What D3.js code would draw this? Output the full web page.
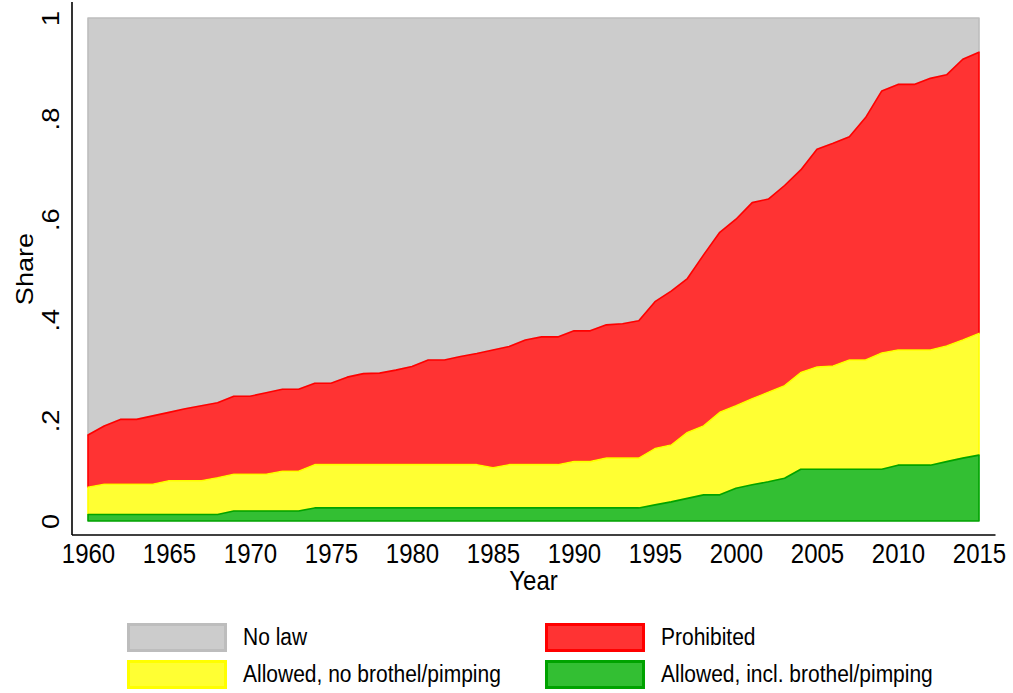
<!DOCTYPE html>
<html>
<head>
<meta charset="utf-8">
<script src="https://cdn.jsdelivr.net/npm/d3@7"></script>
<style>
  body { margin: 0; background: #fff; }
  text { font-family: "Liberation Sans", Arial, sans-serif; fill: #000; }
</style>
</head>
<body>
<svg id="chart"></svg>
<script>
// years on the x axis
const years = d3.range(1960, 2016)

// share of countries in each legal regime (bottom to top of the stack)
const allowedIncl = [
  .013, .013, .013, .013, .013, .013, .013, .013, .013, .020,
  .020, .020, .020, .020, .026, .026, .026, .026, .026, .026,
  .026, .026, .026, .026, .026, .026, .026, .026, .026, .026,
  .026, .026, .026, .026, .026, .032, .038, .045, .052, .052,
  .065, .072, .078, .085, .103, .103, .103, .103, .103, .103,
  .111, .111, .111, .118, .125, .131
]

const allowedNo = [
  .054, .060, .060, .060, .060, .067, .067, .067, .073, .073,
  .073, .073, .079, .079, .086, .086, .086, .086, .086, .086,
  .086, .086, .086, .086, .086, .080, .086, .086, .086, .086,
  .092, .092, .099, .099, .099, .112, .113, .131, .137, .164,
  .164, .171, .178, .184, .192, .203, .205, .217, .217, .231,
  .229, .229, .229, .230, .235, .242
]

const prohibited = [
  .104, .116, .129, .129, .136, .136, .143, .149, .149, .155,
  .155, .162, .163, .163, .162, .162, .174, .181, .182, .188,
  .195, .208, .208, .215, .221, .234, .235, .248, .254, .254,
  .260, .260, .265, .267, .273, .292, .306, .306, .340, .358,
  .371, .390, .384, .398, .403, .433, .443, .444, .482, .521,
  .528, .528, .540, .539, .558, .559
]

const noLaw = [
  .829, .811, .798, .798, .791, .784, .777, .771, .765, .752,
  .752, .745, .738, .738, .726, .726, .714, .707, .706, .700,
  .693, .680, .680, .673, .667, .660, .653, .640, .634, .634,
  .622, .622, .610, .608, .602, .564, .543, .518, .471, .426,
  .400, .367, .360, .333, .302, .261, .249, .236, .198, .145,
  .132, .132, .120, .113, .082, .068
]

const xTickValues = d3.range(1960, 2016, 5)
const yTickValues = [0, .2, .4, .6, .8, 1]
const yTickLabels = ['0', '.2', '.4', '.6', '.8', '1']

const series = [
  { key: 'incl', label: 'Allowed, incl. brothel/pimping', values: allowedIncl, fill: '#33bf33', stroke: '#00a300' },
  { key: 'no', label: 'Allowed, no brothel/pimping', values: allowedNo, fill: '#ffff33', stroke: '#ffff00' },
  { key: 'prohib', label: 'Prohibited', values: prohibited, fill: '#ff3333', stroke: '#ff0000' },
  { key: 'nolaw', label: 'No law', values: noLaw, fill: '#cccccc', stroke: '#bdbdbd' }
]

const width = 1013
const height = 693
const margin = { top: 18, right: 34, bottom: 172, left: 88 }

// the original graph is a bit taller than wide in its glyphs
const stretch = 1.13

const w = width - margin.left - margin.right
const h = height - margin.top - margin.bottom

const svg = d3.select('#chart')
  .attr('width', width)
  .attr('height', height)

const chart = svg.append('g')
  .attr('transform', `translate(${margin.left}, ${margin.top})`)

const x = d3.scaleLinear()
  .domain([1960, 2015])
  .range([0, w])

const y = d3.scaleLinear()
  .domain([0, 1])
  .range([h, 0])

// build table for the stack
const table = years.map((yr, i) => {
  const row = { year: yr }
  series.forEach(s => { row[s.key] = s.values[i] })
  return row
})

const stack = d3.stack()
  .keys(series.map(s => s.key))
const layers = stack(table)

const area = d3.area()
  .x(d => x(d.data.year))
  .y0(d => y(d[0]))
  .y1(d => y(d[1]))

// draw top layer first so lower outlines sit on top
chart.selectAll('.layer')
  .data(layers.slice().reverse())
  .enter().append('path')
    .attr('class', 'layer')
    .attr('d', area)
    .style('fill', d => series.find(s => s.key === d.key).fill)
    .style('stroke', d => series.find(s => s.key === d.key).stroke)
    .style('stroke-width', 1.6)
    .style('stroke-linejoin', 'round')

// axes
const xAxis = d3.axisBottom(x)
  .tickValues(xTickValues)
  .tickFormat(d3.format('d'))
  .tickSize(0)

const yAxis = d3.axisLeft(y)
  .tickValues(yTickValues)
  .tickFormat((d, i) => yTickLabels[i])
  .tickSize(0)

const gx = chart.append('g')
  .attr('class', 'x axis')
  .attr('transform', `translate(0, ${h + 14})`)
  .call(xAxis)

gx.select('.domain').remove()
gx.append('line')
  .attr('x1', -16).attr('x2', w + 16.5)
  .attr('y1', 0).attr('y2', 0)
  .style('stroke', '#000').style('stroke-width', 1.6)

gx.selectAll('.tick text')
  .attr('y', 0)
  .attr('dy', 0)
  .attr('transform', `translate(0, 28) scale(1, ${stretch})`)
  .style('font-size', '24px')

const gy = chart.append('g')
  .attr('class', 'y axis')
  .attr('transform', 'translate(-16, 0)')
  .call(yAxis)

gy.select('.domain').remove()
gy.append('line')
  .attr('x1', 0).attr('x2', 0)
  .attr('y1', -16).attr('y2', h + 14)
  .style('stroke', '#000').style('stroke-width', 1.6)

gy.selectAll('.tick text')
  .attr('x', 0)
  .attr('dy', 0)
  .attr('text-anchor', 'middle')
  .attr('transform', `translate(-13, 0) scale(1, ${stretch}) rotate(-90)`)
  .style('font-size', '24px')

// axis titles
svg.append('text')
  .attr('transform', `translate(33, 269) scale(1, ${stretch}) rotate(-90)`)
  .attr('text-anchor', 'middle')
  .style('font-size', '24px')
  .text('Share')

svg.append('text')
  .attr('transform', `translate(${margin.left + w / 2}, 590) scale(1, ${stretch})`)
  .attr('text-anchor', 'middle')
  .style('font-size', '24px')
  .text('Year')

// legend
const legendOrder = ['nolaw', 'prohib', 'no', 'incl']
const legend = svg.append('g')
  .attr('class', 'legend')

const item = legend.selectAll('.item')
  .data(legendOrder.map(k => series.find(s => s.key === k)))
  .enter().append('g')
    .attr('class', 'item')
    .attr('transform', (d, i) => `translate(${i % 2 ? 545 : 127}, ${i < 2 ? 623 : 660})`)

item.append('rect')
  .attr('x', 1.5).attr('y', 1.5)
  .attr('width', 97).attr('height', 26)
  .style('fill', d => d.fill)
  .style('stroke', d => d.stroke)
  .style('stroke-width', 3)

item.append('text')
  .attr('transform', `translate(116, 22) scale(1, ${stretch})`)
  .style('font-size', '21px')
  .text(d => d.label)
</script>
</body>
</html>
